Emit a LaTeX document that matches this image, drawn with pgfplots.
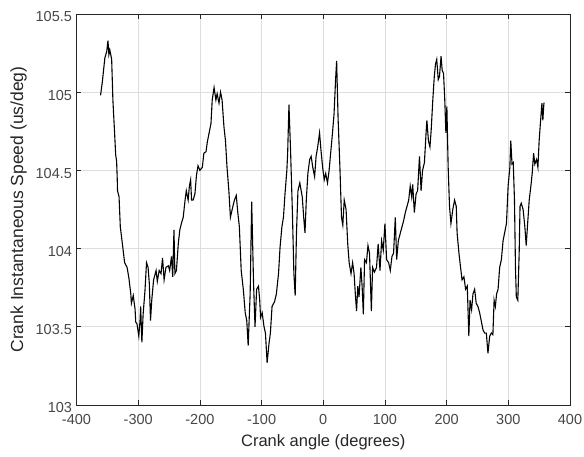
\documentclass[border=0pt]{standalone}
\usepackage{fontspec}
\setmainfont{Liberation Sans}
\usepackage{pgfplots}
\pgfplotsset{compat=1.18}
\definecolor{axgray}{gray}{0.15}
\definecolor{gridgray}{gray}{0.87}
\begin{document}
\begin{tikzpicture}[x=1pt,y=1pt]
\useasboundingbox (-76.5pt,-52pt) rectangle (507.5pt,405pt);
\begin{axis}[
  at={(0pt,0pt)}, anchor=south west,
  scale only axis, width=493.5pt, height=391pt,
  xmin=-400, xmax=400, ymin=103, ymax=105.5,
  xtick={-400,-300,...,400},
  ytick={103,103.5,104,104.5,105,105.5},
  /pgf/number format/assume math mode=true,
  /pgf/number format/.cd, fixed, precision=1, /pgfplots/.cd,
  grid=major,
  major grid style={gridgray, line width=0.6pt},
  axis line style={axgray, line width=0.7pt},
  tick style={axgray, line width=0.6pt},
  tick align=inside,
  major tick length=5pt,
  ticklabel style={font=\fontsize{14.5}{16}\selectfont, text=axgray!85},
  xticklabel style={yshift=-6pt},
  yticklabel style={yshift=-3pt, xshift=-1pt},
  xlabel={Crank angle (degrees)},
  ylabel={Crank Instantaneous Speed (us/deg)},
  xlabel style={font=\fontsize{16.5}{18}\selectfont, text=axgray, yshift=-3pt},
  ylabel style={font=\fontsize{17.5}{19}\selectfont, text=axgray, yshift=2pt},
]
\addplot[black, line width=1.1pt] coordinates {
(-361,104.98) (-358,105.07) (-354,105.22) (-351,105.26) (-349,105.33) (-347.5,105.24) (-346,105.27) (-343,105.21)
(-341,104.95) (-338,104.72) (-336.5,104.60) (-335,104.56) (-334,104.45) (-333.5,104.37) (-331,104.33) (-329,104.14)
(-325,104.01) (-322,103.91) (-318,103.88) (-315,103.81) (-312,103.71) (-311,103.65) (-308,103.70)
(-305,103.61) (-304,103.53) (-302,103.52) (-299,103.44) (-297,103.54) (-296,103.63) (-294,103.40)
(-292,103.58) (-289,103.73) (-286.5,103.91) (-284,103.88) (-282,103.78) (-280,103.54) (-278,103.67)
(-275,103.80) (-271,103.86) (-269,103.79) (-266,103.86) (-263,103.84) (-260.5,103.94) (-258,103.80)
(-255,103.88) (-251,103.89) (-249,103.86) (-246,103.95) (-244,103.82) (-242,104.12) (-240.5,103.84)
(-238,103.86) (-235,104.03) (-232.5,104.12) (-230,104.16) (-227,104.20) (-224,104.31) (-222,104.37)
(-219,104.31) (-217,104.40) (-215,104.44) (-213.5,104.31) (-211,104.31) (-208,104.35) (-205.5,104.47)
(-203,104.53) (-200,104.50) (-196,104.52) (-193.5,104.61) (-190,104.62) (-188,104.68) (-185,104.74)
(-182,104.80) (-180,104.95) (-177,105.03) (-174,104.95) (-172,104.99) (-169,104.93) (-166.5,105.0)
(-164,104.95) (-161,104.78) (-158.5,104.69) (-156,104.52)
(-153,104.37) (-150.5,104.20) (-146.5,104.27) (-144,104.31) (-141,104.34) (-138.5,104.23) (-136,104.14)
(-133,103.86) (-129.6,103.74) (-126.5,103.59) (-124,103.54) (-121.7,103.38) (-118.5,103.71) (-116,104.30)
(-113,103.78) (-110.6,103.50) (-108,103.74) (-105,103.76) (-103,103.67) (-101.6,103.56) (-99,103.59)
(-96,103.50) (-93.7,103.46) (-91,103.27) (-88,103.39) (-85.7,103.46) (-83,103.63) (-79,103.66)
(-76,103.71) (-72.5,103.84) (-70,104.01) (-67,104.14) (-64.5,104.20) (-62,104.35) (-59,104.50)
(-57.7,104.61) (-55.6,104.92) (-53,104.63) (-50,104.23) (-47.6,103.84) (-45.5,103.70) (-43.4,104.10)
(-41,104.37) (-38,104.42) (-34,104.33) (-31.7,104.20) (-29.6,104.10) (-27.5,104.31) (-24.9,104.48)
(-22,104.57) (-19.6,104.59) (-17,104.52) (-14,104.46) (-11.6,104.59) (-9,104.65) (-6,104.74)
(-3.7,104.63) (-1,104.52) (1.6,104.44) (4,104.48) (6.9,104.42) (9.5,104.50) (12,104.61) (15,104.74)
(17.5,104.86) (20,105.08) (21.7,105.20) (24,104.84) (27,104.52) (29.6,104.20) (31.7,104.15) (34,104.31)
(37,104.25) (39.7,104.03) (42,103.91) (45,103.84) (47.6,103.91) (50,103.84) (52,103.71) (54,103.60)
(56,103.76) (58,103.69) (61,103.88) (63,103.76) (65,103.58) (67,103.93) (70,103.91) (72.5,104.02)
(75,103.97) (78,103.60) (80,103.88) (83,103.85) (86.4,103.88) (89,104.03) (92,103.86) (94.6,104.05)
(97.3,103.99) (100,104.16) (102.7,103.93) (106,103.91) (108.7,103.86) (111.4,103.95) (114,103.97)
(116.8,104.20) (119,103.93) (121.7,104.05) (125,104.10) (127.7,104.14) (130.4,104.18) (133,104.23)
(135.8,104.27) (138.5,104.31) (141,104.40) (143.4,104.33) (145,104.41) (147.7,104.23) (150.5,104.35)
(153,104.37) (156,104.59) (158.6,104.37) (161,104.50) (164,104.55) (166.7,104.74) (168,104.82)
(170.5,104.69) (173,104.65) (175,104.76) (177.6,104.95) (180,105.10) (182,105.18) (184,105.21)
(186.4,105.08) (188.4,105.10) (191,105.23) (192.8,105.14) (195,105.12) (197,104.95) (198.8,104.74)
(200.4,104.91) (202.5,104.52) (204.7,104.27) (207,104.16) (210,104.25) (212.9,104.31) (215.6,104.27)
(217,104.10) (220,103.97) (222.6,103.88) (225,103.80) (228,103.82) (230.8,103.74) (233.5,103.76)
(236,103.44) (238,103.67) (240.5,103.61) (242.7,103.71) (245.4,103.74) (248,103.65) (250.8,103.63)
(253.5,103.59) (256,103.54) (259,103.48) (261.7,103.46) (264.4,103.46) (267,103.33) (269.8,103.44)
(272.5,103.46) (275,103.45) (277,103.67) (279,103.63) (281,103.71) (283.4,103.74) (286,103.88)
(288.8,103.93) (291.5,104.05) (294,104.10) (297,104.16) (299.7,104.40) (302.5,104.52) (304,104.69)
(306,104.54) (308,104.55) (310,104.31) (311.6,103.88) (313,103.69) (315.4,103.67) (317.6,103.97)
(319,104.27) (321,104.29) (324,104.25) (326.8,104.14) (329,104.02) (331,104.14) (333.9,104.31)
(336.6,104.40) (338.7,104.48) (341,104.61) (343,104.54) (345.8,104.57) (348,104.52) (350,104.69)
(352,104.80) (354.5,104.93) (356,104.82) (357.7,104.93) (359,104.93)
};
\end{axis}
\end{tikzpicture}
\end{document}
